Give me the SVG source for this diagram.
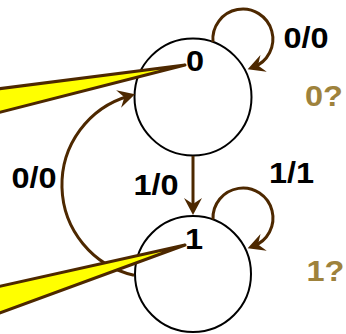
<svg xmlns="http://www.w3.org/2000/svg" width="346" height="334" viewBox="0 0 346 334">
<style>
.state{fill:#fff;stroke:#000;stroke-width:2}
.edge{fill:none;stroke:#4d2800;stroke-width:3}
.lbl{font-family:"Liberation Sans",Arial,sans-serif;font-weight:bold;font-size:29px;text-anchor:middle;fill:#000}
.out{fill:#9e823c}
.wedge{fill:#ffff00;stroke:#4d2800;stroke-width:3;stroke-linejoin:round}
</style>
<defs>
<marker id="ah" markerUnits="userSpaceOnUse" viewBox="0 0 18 18" markerWidth="18" markerHeight="18" refX="11" refY="9" orient="auto">
<path d="M0,0 L17,9 L0,18 L6,9 z" fill="#4d2800"/>
</marker>
</defs>
<rect width="346" height="334" fill="#fff"/>
<g id="s0">
<circle class="state" cx="193" cy="97" r="58.5"/>
<text class="lbl" transform="translate(195,71) scale(1.12,1)">0</text>
</g>
<g id="s1">
<circle class="state" cx="193" cy="274" r="58"/>
<text class="lbl" transform="translate(194,249) scale(1.12,1)">1</text>
</g>
<g id="connectors">
<path class="edge" d="M213,42 A30,30 0 1 1 253.3,67.2" marker-end="url(#ah)"/>
<path class="edge" d="M213,219.5 A30,30 0 1 1 253.3,246.2" marker-end="url(#ah)"/>
<path class="edge" d="M193,156 L193,209" marker-end="url(#ah)"/>
<path class="edge" d="M134,275.2 A92.5,92.5 0 0 1 129.2,96" marker-end="url(#ah)"/>
</g>
<g id="labels">
<text class="lbl" transform="translate(306,48) scale(1.12,1)">0/0</text>
<text class="lbl" transform="translate(291.5,183) scale(1.12,1)">1/1</text>
<text class="lbl" transform="translate(156,195) scale(1.12,1)">1/0</text>
<text class="lbl" transform="translate(34,188) scale(1.12,1)">0/0</text>
<text class="lbl out" transform="translate(324,106) scale(1.12,1)">0?</text>
<text class="lbl out" transform="translate(325.5,281) scale(1.12,1)">1?</text>
</g>
<g id="pointers">
<polygon class="wedge" points="185,65 -3,89 -3,113"/>
<polygon class="wedge" points="185,245 -3,287 -3,314"/>
</g>
</svg>
